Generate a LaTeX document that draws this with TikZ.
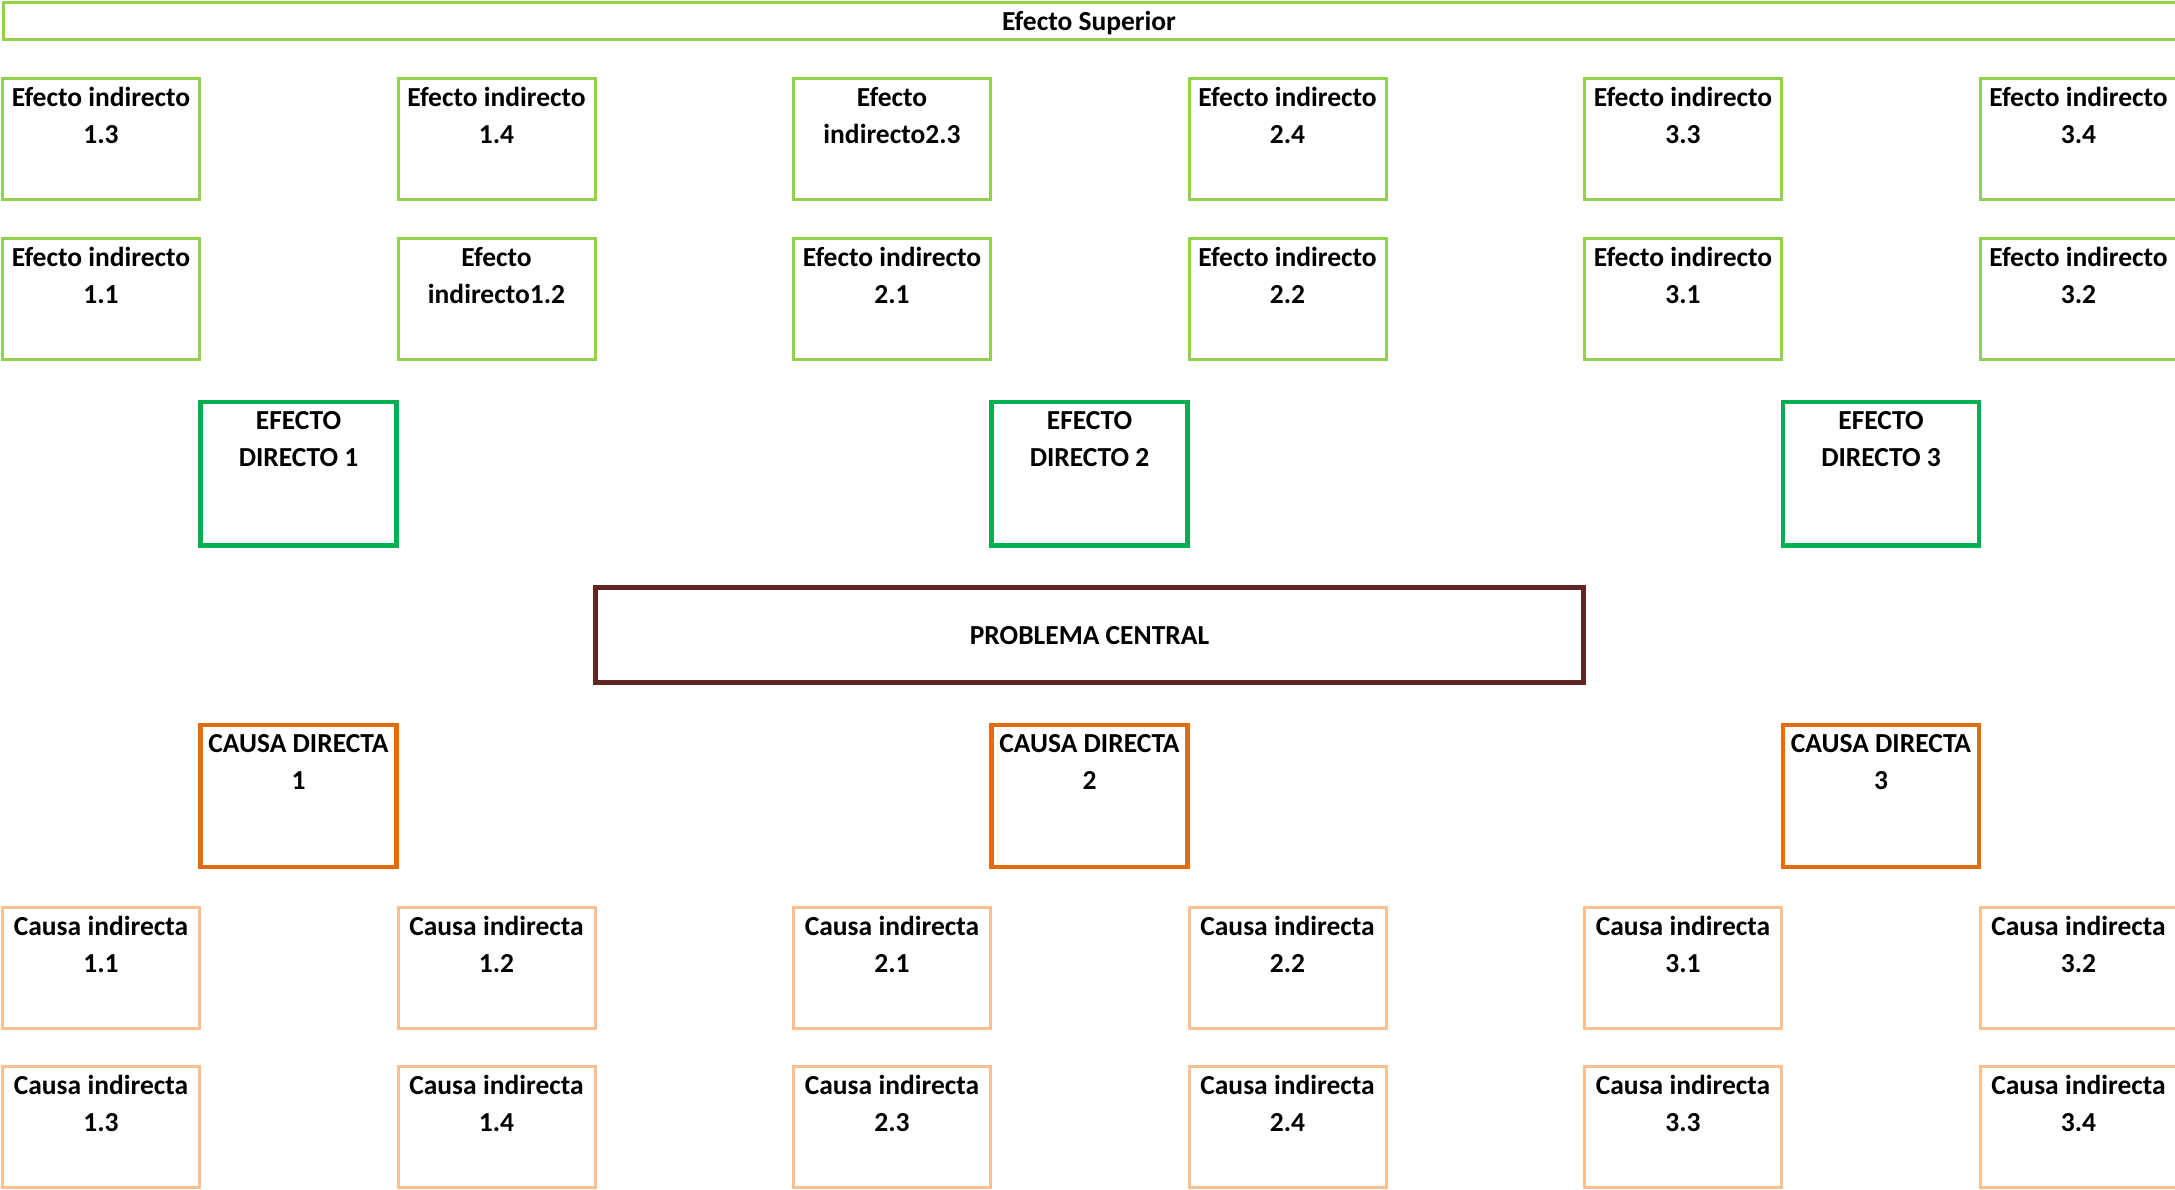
\documentclass[tikz,border=0pt]{standalone}
\usepackage{fontspec}
\setmainfont{Carlito}
\definecolor{lgreen}{HTML}{92D050}
\definecolor{dgreen}{HTML}{00B050}
\definecolor{brown}{HTML}{632523}
\definecolor{dorange}{HTML}{E46C0A}
\definecolor{lorange}{HTML}{FAC090}
\tikzset{
  boxbase/.style={rectangle, inner sep=0pt, fill=white},
  indeff/.style={boxbase, draw=lgreen, line width=3pt, minimum width=197pt, minimum height=121pt},
  direff/.style={boxbase, draw=dgreen, line width=4.5pt, minimum width=196pt, minimum height=143.5pt},
  central/.style={boxbase, draw=brown, line width=5pt, minimum width=988pt, minimum height=95pt},
  dircause/.style={boxbase, draw=dorange, line width=4.5pt, minimum width=196pt, minimum height=142pt},
  indcause/.style={boxbase, draw=lorange, line width=3pt, minimum width=197pt, minimum height=121pt},
  topbar/.style={boxbase, draw=lgreen, line width=3pt, minimum width=2180pt, minimum height=37pt},
  txt/.style={inner sep=0pt, font=\fontsize{27.5}{37}\selectfont\bfseries, text=black},
}
\newcommand\mybox[5]{%
  \node[#2] (#1) at (#3,#4) {};
  \node[txt, anchor=base] (#1-t) at ([yshift=-29.5pt]#1.north) {\parbox[t]{230pt}{\centering #5}};
}
\begin{document}
\begin{tikzpicture}[x=1pt,y=-1pt]
\useasboundingbox (0,0) rectangle (2175,1190);
% top bar (its right end runs past the picture edge)
\node[topbar] (sup) at (1093,21.5) {};
\node[txt, anchor=base] (sup-t) at ([xshift=-4pt,yshift=-9pt]sup.center) {Efecto Superior};
% indirect effects row 1
\mybox{e13}{indeff}{101}{139.3}{Efecto indirecto\\1.3}
\mybox{e14}{indeff}{496.5}{139.3}{Efecto indirecto\\1.4}
\mybox{e23}{indeff}{892}{139.3}{Efecto\\indirecto2.3}
\mybox{e24}{indeff}{1287.5}{139.3}{Efecto indirecto\\2.4}
\mybox{e33}{indeff}{1683}{139.3}{Efecto indirecto\\3.3}
\mybox{e34}{indeff}{2078.5}{139.3}{Efecto indirecto\\3.4}
% indirect effects row 2
\mybox{e11}{indeff}{101}{299}{Efecto indirecto\\1.1}
\mybox{e12}{indeff}{496.5}{299}{Efecto\\indirecto1.2}
\mybox{e21}{indeff}{892}{299}{Efecto indirecto\\2.1}
\mybox{e22}{indeff}{1287.5}{299}{Efecto indirecto\\2.2}
\mybox{e31}{indeff}{1683}{299}{Efecto indirecto\\3.1}
\mybox{e32}{indeff}{2078.5}{299}{Efecto indirecto\\3.2}
% direct effects
\mybox{d1}{direff}{298.5}{473.8}{EFECTO\\DIRECTO 1}
\mybox{d2}{direff}{1089.5}{473.8}{EFECTO\\DIRECTO 2}
\mybox{d3}{direff}{1881}{473.8}{EFECTO\\DIRECTO 3}
% central problem
\node[central] (pc) at (1089.5,635) {};
\node[txt, anchor=base] (pc-t) at ([yshift=-9pt]pc.center) {PROBLEMA CENTRAL};
% direct causes
\mybox{c1}{dircause}{298.5}{796.2}{CAUSA DIRECTA\\1}
\mybox{c2}{dircause}{1089.5}{796.2}{CAUSA DIRECTA\\2}
\mybox{c3}{dircause}{1881}{796.2}{CAUSA DIRECTA\\3}
% indirect causes row 1
\mybox{i11}{indcause}{101}{967.5}{Causa indirecta\\1.1}
\mybox{i12}{indcause}{496.5}{967.5}{Causa indirecta\\1.2}
\mybox{i21}{indcause}{892}{967.5}{Causa indirecta\\2.1}
\mybox{i22}{indcause}{1287.5}{967.5}{Causa indirecta\\2.2}
\mybox{i31}{indcause}{1683}{967.5}{Causa indirecta\\3.1}
\mybox{i32}{indcause}{2078.5}{967.5}{Causa indirecta\\3.2}
% indirect causes row 2
\mybox{i13}{indcause}{101}{1127}{Causa indirecta\\1.3}
\mybox{i14}{indcause}{496.5}{1127}{Causa indirecta\\1.4}
\mybox{i23}{indcause}{892}{1127}{Causa indirecta\\2.3}
\mybox{i24}{indcause}{1287.5}{1127}{Causa indirecta\\2.4}
\mybox{i33}{indcause}{1683}{1127}{Causa indirecta\\3.3}
\mybox{i34}{indcause}{2078.5}{1127}{Causa indirecta\\3.4}
\end{tikzpicture}
\end{document}
